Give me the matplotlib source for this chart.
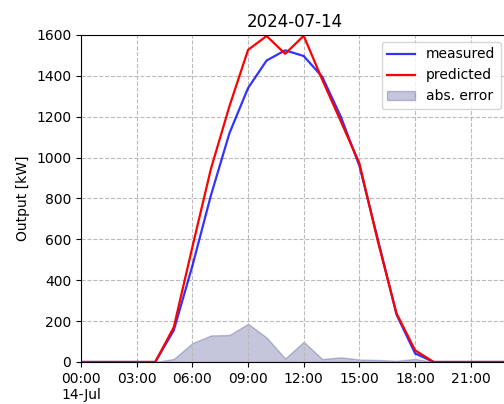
import numpy as np
import pandas as pd
import matplotlib
matplotlib.use("Agg")
import matplotlib.pyplot as plt
import matplotlib.dates as mdates
from matplotlib.ticker import FuncFormatter

# hourly values for 2024-07-14
zaman = pd.date_range("2024-07-14 00:00", periods=24, freq="h")
measured = [0, 0, 0, 0, 0, 155, 470, 815, 1120, 1340, 1475, 1525,
            1497, 1395, 1200, 960, 598, 232, 42, 0, 0, 0, 0, 0]
predicted = [0, 0, 0, 0, 0, 170, 562, 945, 1252, 1527, 1595, 1508,
             1596, 1381, 1177, 972, 588, 238, 57, 0, 0, 0, 0, 0]
abs_error = np.abs(np.array(measured) - np.array(predicted))

fig = plt.figure(figsize=(5.04, 4.04), dpi=100)
ax = fig.add_axes([0.1607, 0.104, 0.847, 0.8094])

ax.plot(zaman, measured, color="blue", alpha=0.8, lw=1.6, label="measured")
ax.plot(zaman, predicted, color="red", lw=1.6, label="predicted")
ax.fill_between(zaman, 0, abs_error, color="midnightblue", alpha=0.25, label="abs. error")

ax.set_xlim(zaman[0], zaman[-1])
ax.set_ylim(0, 1600)
ax.set_yticks(np.arange(0, 1601, 200))
ax.xaxis.set_major_locator(mdates.HourLocator(byhour=range(0, 24, 3)))


def saat(x, pos):
    d = mdates.num2date(x)
    if d.hour == 0:
        return d.strftime("%H:%M\n%d-%b")
    return d.strftime("%H:%M")


ax.xaxis.set_major_formatter(FuncFormatter(saat))
for t in ax.get_xticklabels():
    t.set_horizontalalignment("center")

ax.grid(True, linestyle="--", color="#bbbbbb", lw=0.8)
ax.set_ylabel("Output [kW]")
ax.set_title("2024-07-14")
ax.legend(loc="upper right")

fig.savefig("out.png", dpi=100)
